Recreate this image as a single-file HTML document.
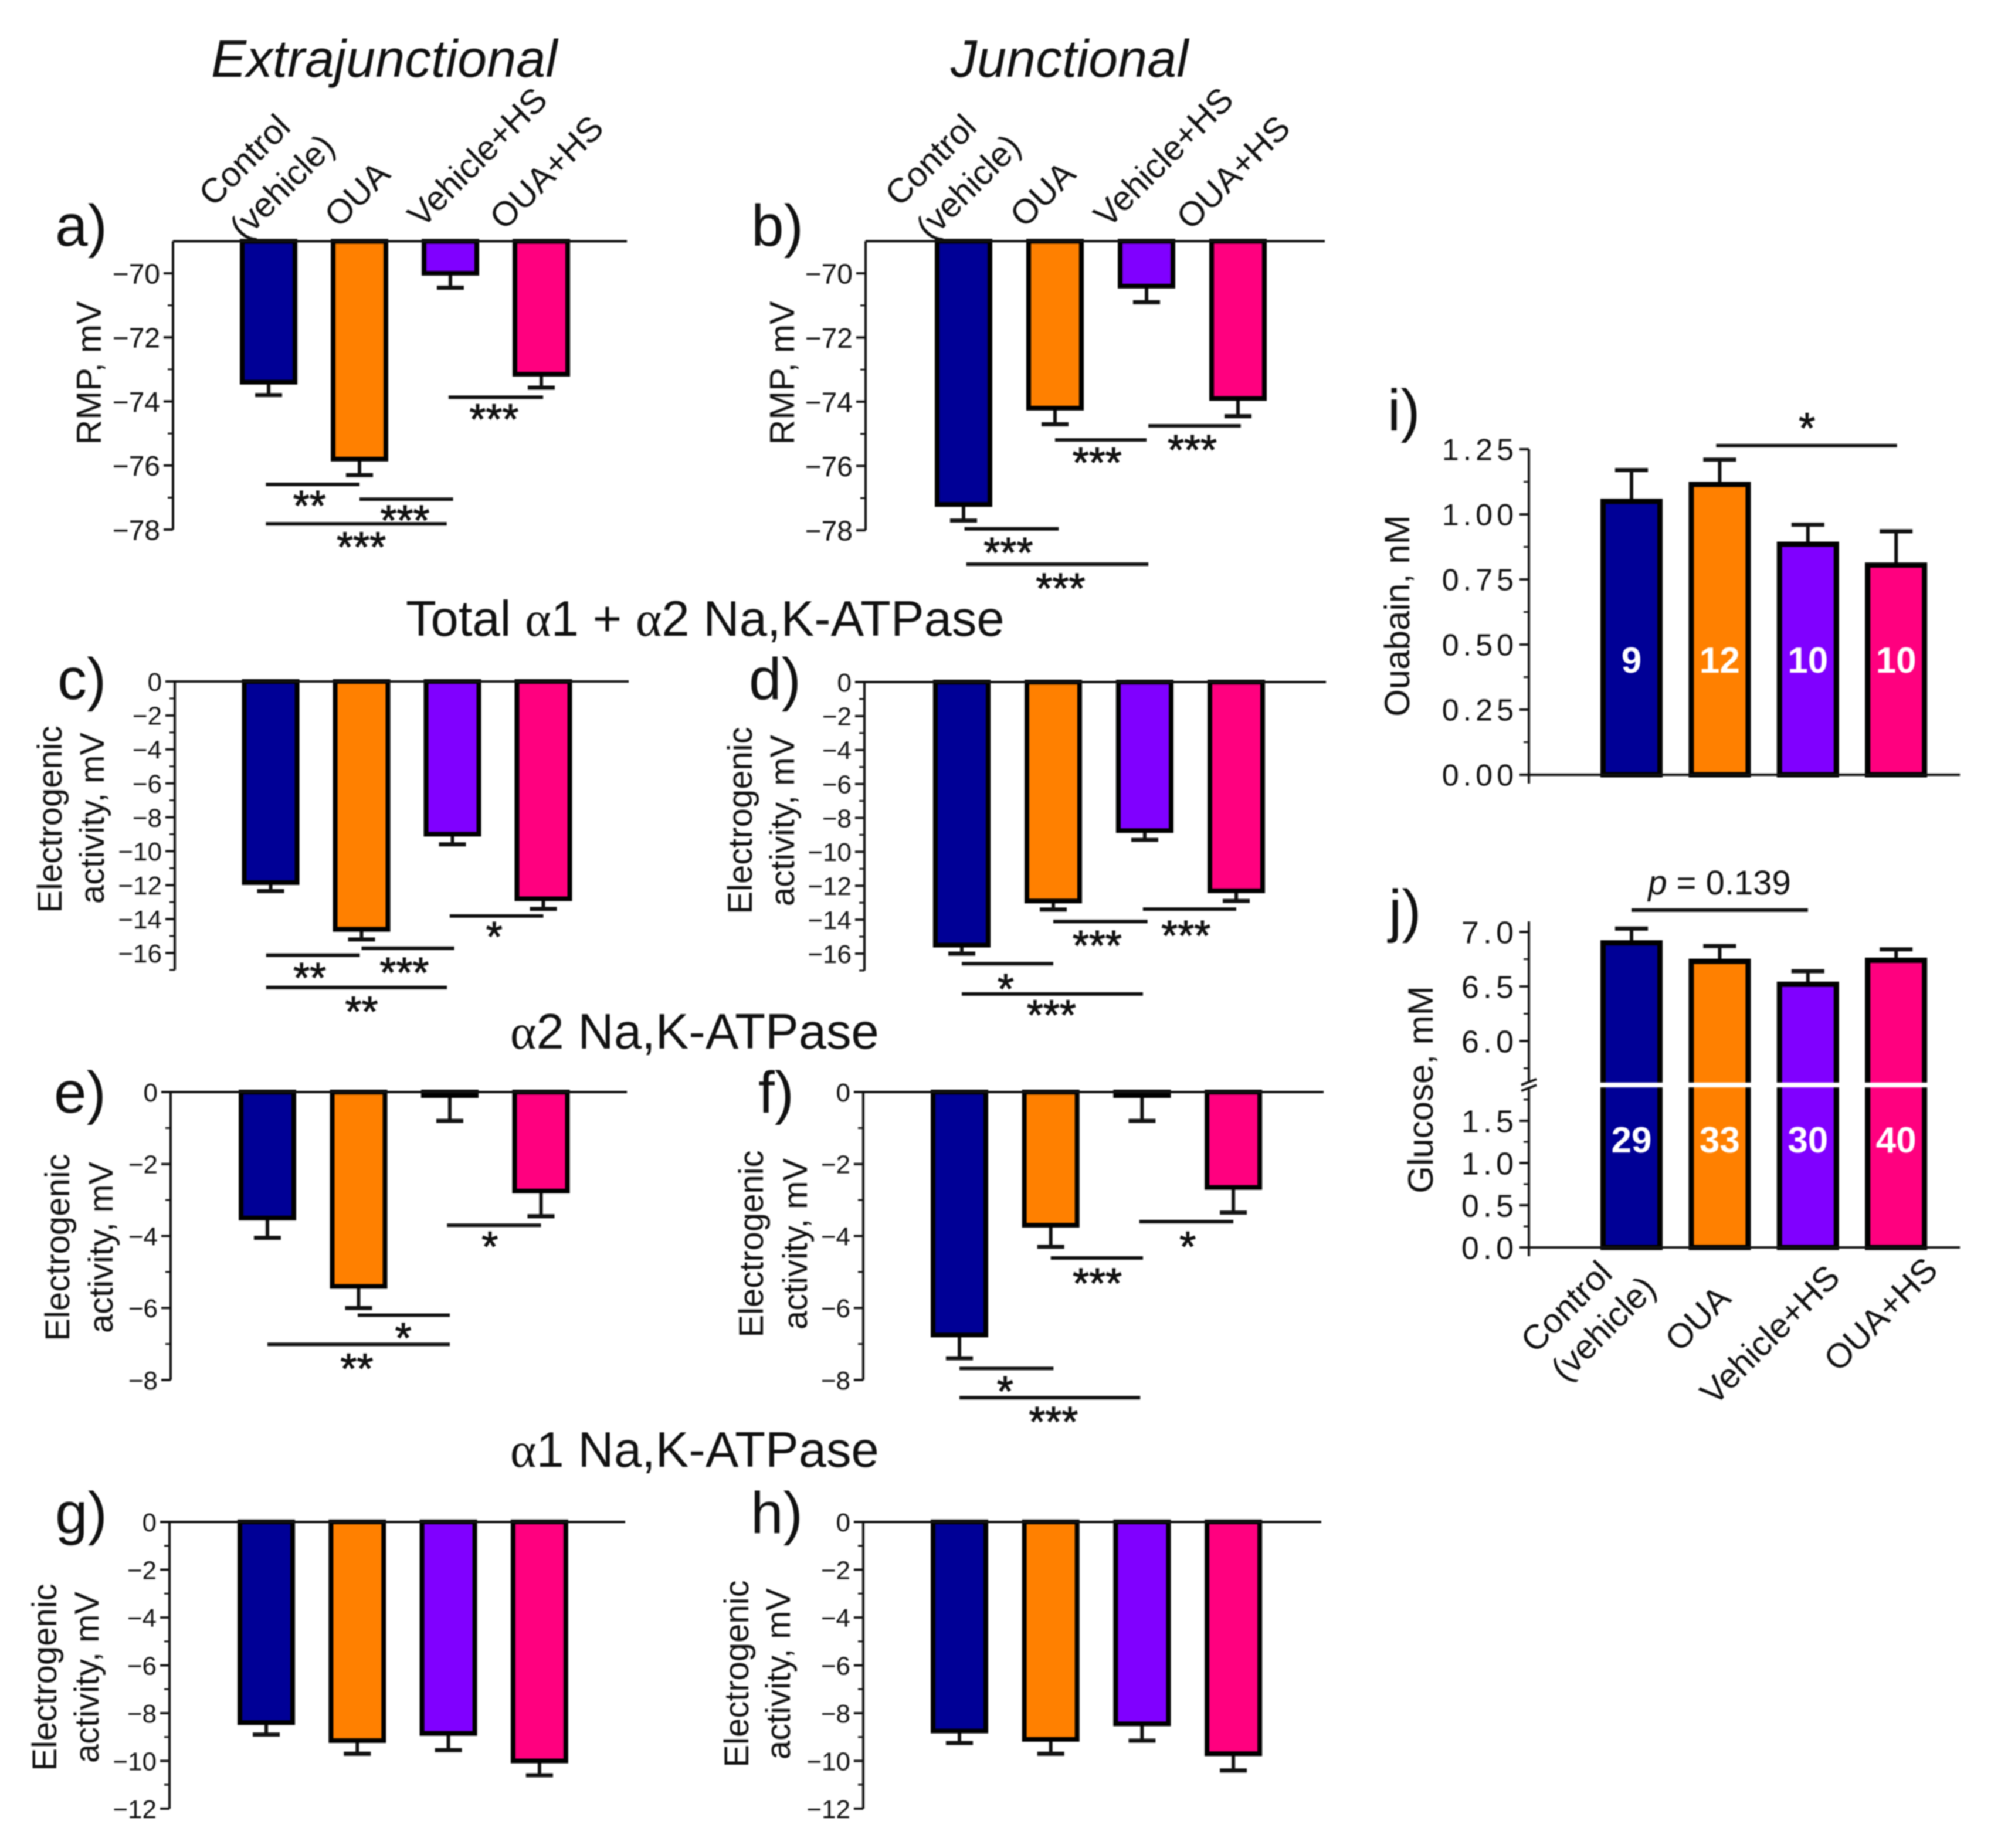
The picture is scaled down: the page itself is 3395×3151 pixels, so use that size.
<!DOCTYPE html>
<html lang="en">
<head>
<meta charset="utf-8">
<title>Na,K-ATPase electrogenic activity panels</title>
<style>
html,body{margin:0;padding:0;background:#fff;}
svg{display:block;filter:blur(1px);}
text{font-family:"Liberation Sans",Arial,sans-serif;fill:#111;}
</style>
</head>
<body>
<svg id="figure" xmlns="http://www.w3.org/2000/svg" width="3395" height="3151" viewBox="0 0 3395 3151">
<rect width="3395" height="3151" fill="#fff"/>
<text x="360" y="131" font-size="90" font-style="italic">Extrajunctional</text>
<text x="1621" y="131" font-size="90" font-style="italic">Junctional</text>
<text x="692" y="1084" font-size="85">Total <tspan font-family="Liberation Serif">α</tspan>1 + <tspan font-family="Liberation Serif">α</tspan>2 Na,K-ATPase</text>
<text x="870" y="1788" font-size="85"><tspan font-family="Liberation Serif">α</tspan>2 Na,K-ATPase</text>
<text x="870" y="2501" font-size="85"><tspan font-family="Liberation Serif">α</tspan>1 Na,K-ATPase</text>
<text x="94" y="419" font-size="100">a)</text>
<text x="1281" y="419" font-size="100">b)</text>
<text x="98" y="1192" font-size="100">c)</text>
<text x="1277" y="1192" font-size="100">d)</text>
<text x="92" y="1897" font-size="100">e)</text>
<text x="1293" y="1897" font-size="100">f)</text>
<text x="94" y="2614" font-size="100">g)</text>
<text x="1280" y="2614" font-size="100">h)</text>
<text x="2366" y="734" font-size="100">i)</text>
<text x="2368" y="1587" font-size="100">j)</text>
<text x="2932" y="1525" font-size="58" text-anchor="middle"><tspan font-style="italic">p</tspan> = 0.139</text>
</svg>
<script>
const categories = ['Control (vehicle)', 'OUA', 'Vehicle+HS', 'OUA+HS'];
const barColors = ['#000096', '#FF8000', '#8000FF', '#FF007F'];

const valuesA = [-73.4, -75.8, -70.0, -73.15];
const errorsA = [0.4, 0.5, 0.45, 0.42];
const valuesB = [-77.2, -74.2, -70.4, -73.9];
const errorsB = [0.5, 0.5, 0.5, 0.55];
const valuesC = [-11.85, -14.6, -9.0, -12.8];
const errorsC = [0.5, 0.6, 0.6, 0.6];
const valuesD = [-15.5, -12.9, -8.75, -12.3];
const errorsD = [0.5, 0.5, 0.55, 0.6];
const valuesE = [-3.5, -5.4, -0.1, -2.75];
const errorsE = [0.55, 0.6, 0.7, 0.7];
const valuesF = [-6.75, -3.7, -0.1, -2.65];
const errorsF = [0.65, 0.6, 0.7, 0.7];
const valuesG = [-8.4, -9.15, -8.85, -10.0];
const errorsG = [0.5, 0.55, 0.7, 0.6];
const valuesH = [-8.75, -9.1, -8.45, -9.7];
const errorsH = [0.5, 0.6, 0.7, 0.7];
const valuesI = [1.05, 1.115, 0.885, 0.805];
const errorsI = [0.12, 0.095, 0.075, 0.13];
const countsI = ['9', '12', '10', '10'];
const valuesJ = [6.9, 6.73, 6.52, 6.74];
const errorsJ = [0.13, 0.14, 0.12, 0.1];
const countsJ = ['29', '33', '30', '40'];

const ticksA = [-70, -72, -74, -76, -78];
const minorA = [-71, -73, -75, -77];
const ticksCD = [0, -2, -4, -6, -8, -10, -12, -14, -16];
const minorCD = [-1, -3, -5, -7, -9, -11, -13, -15, -17];
const ticksEF = [0, -2, -4, -6, -8];
const minorEF = [-1, -3, -5, -7];
const ticksGH = [0, -2, -4, -6, -8, -10, -12];
const minorGH = [-1, -3, -5, -7, -9, -11];
const ticksI = [0, 0.25, 0.5, 0.75, 1, 1.25];
const minorI = [0.125, 0.375, 0.625, 0.875, 1.125];
const ticksJ = [0, 0.5, 1, 1.5, 6, 6.5, 7];
const minorJ = [0.25, 0.75, 1.25, 1.75, 5.75, 6.25, 6.75];

const bracketsA = [[-0.03, 1, -76.59], [1, 2.03, -77.05], [-0.03, 1.96, -77.82], [1.98, 3.02, -73.87]];
const starsA = [[0.45, -77.1, '**'], [1.5, -77.56, '***'], [1.02, -78.39, '***'], [2.48, -74.4, '***']];
const bracketsB = [[0.01, 1.04, -77.96], [0.03, 2.02, -79.06], [1, 2, -75.19], [2.02, 3.03, -74.75]];
const starsB = [[0.49, -78.55, '***'], [1.06, -79.66, '***'], [1.46, -75.74, '***'], [2.5, -75.35, '***']];
const bracketsC = [[-0.05, 0.98, -16.13], [1, 2.02, -15.72], [-0.05, 1.94, -18.03], [1.97, 3, -13.82]];
const starsC = [[0.43, -17.17, '**'], [1.47, -16.86, '***'], [1.0, -19.17, '**'], [2.46, -14.75, '*']];
const bracketsD = [[0, 1, -16.59], [0, 1.98, -18.38], [1, 2.03, -14.11], [1.98, 3, -13.38]];
const starsD = [[0.48, -17.8, '*'], [0.98, -19.34, '***'], [1.48, -15.24, '***'], [2.45, -14.66, '***']];
const bracketsE = [[0.99, 2, -6.2], [0, 2, -7.01], [1.97, 3, -3.7]];
const starsE = [[1.49, -6.7, '*'], [0.98, -7.55, '**'], [2.44, -4.16, '*']];
const bracketsF = [[0, 1.03, -7.68], [0, 1.98, -8.49], [1, 2.01, -4.61], [1.97, 3, -3.6]];
const starsF = [[0.5, -8.18, '*'], [1.03, -9.03, '***'], [1.51, -5.18, '***'], [2.5, -4.16, '*']];
const bracketsI = [[0.96, 3.01, 1.264]];
const starsI = [[1.99, 1.35, '*']];
const bracketsJ = [[0, 2, 7.2]];

const svg = document.getElementById('figure');
const NS = 'http://www.w3.org/2000/svg';

function make(tag, attrs, parent) {
  const node = document.createElementNS(NS, tag);
  for (const key in attrs) node.setAttribute(key, attrs[key]);
  parent.appendChild(node);
  return node;
}

function drawLine(parent, name, x1, y1, x2, y2, width, color) {
  const line = make('line', { x1: x1, y1: y1, x2: x2, y2: y2, stroke: color || '#111', 'stroke-width': width }, parent);
  
  
  return line;
}

function drawText(parent, name, content, x, y, size, extra) {
  const label = make('text', Object.assign({ x: x, y: y, 'font-size': size }, extra || {}), parent);
  label.textContent = content;
  
  
  return label;
}

function linearScale(d0, d1, r0, r1) {
  return function (v) { return r0 + (v - d0) * (r1 - r0) / (d1 - d0); };
}

function drawPanel(p) {
  const g = make('g', {}, svg);
  
  
  const y = p.yScale;
  const x = function (i) { return p.x0 + i * p.step; };
  const sw = p.stroke || 8;
  const half = p.barWidth / 2;
  const base = y(p.baseValue);

  p.values.forEach(function (value, i) {
    const end = y(value);
    const errEnd = y(value + (value < p.baseValue ? -p.errors[i] : p.errors[i]));
    drawLine(g, 'error-stem-' + p.id + '-' + i, x(i), end, x(i), errEnd, 6);
    drawLine(g, 'error-cap-' + p.id + '-' + i, x(i) - p.cap, errEnd, x(i) + p.cap, errEnd, 7);
    const bar = make('rect', {
      x: x(i) - half,
      y: Math.min(base, end),
      width: p.barWidth,
      height: Math.abs(end - base),
      fill: barColors[i],
      stroke: '#000',
      'stroke-width': sw
    }, g);
    
    
    if (p.counts) {
      drawText(g, 'bar-count-' + p.id + '-' + i, p.counts[i], x(i), p.countY, 62, {
        'text-anchor': 'middle', 'font-weight': 'bold', style: 'fill:#fff'
      });
    }
  });

  if (p.axisSegments) {
    p.axisSegments.forEach(function (seg, i) {
      drawLine(g, 'y-axis-' + p.id + '-' + i, p.axisX, seg[0], p.axisX, seg[1], 4);
    });
  } else {
    drawLine(g, 'y-axis-' + p.id, p.axisX, base, p.axisX, y(p.axisEnd), 4);
  }
  drawLine(g, 'baseline-' + p.id, p.axisX, base, p.axisRight, base, 4);

  p.ticks.forEach(function (t) {
    drawLine(g, 'y-tick-' + p.id, p.axisX - 16, y(t), p.axisX, y(t), 4);
    const txt = p.format(t);
    drawText(g, 'y-tick-label-' + p.id, txt, p.axisX - 22 + (p.tickSpacing ? 3 : 0), y(t) + p.tickSize * 0.36, p.tickSize, {
      'text-anchor': 'end', 'letter-spacing': p.tickSpacing || 0
    });
  });
  p.minor.forEach(function (t) {
    drawLine(g, 'y-minor-tick-' + p.id, p.axisX - 9, y(t), p.axisX, y(t), 3);
  });

  (p.brackets || []).forEach(function (b) {
    drawLine(g, 'significance-bar-' + p.id, x(b[0]), y(b[2]), x(b[1]), y(b[2]), 6);
  });
  (p.stars || []).forEach(function (s) {
    drawText(g, 'significance-stars-' + p.id, s[2], x(s[0]), y(s[1]) + 33, 72, {
      'text-anchor': 'middle', stroke: '#111', 'stroke-width': 1.2
    });
  });

  p.titles.forEach(function (t, i) {
    drawText(g, 'y-axis-title-' + p.id + '-' + i, t[0], 0, 0, p.titleSize || 58, {
      'text-anchor': 'middle',
      transform: 'translate(' + t[1] + ',' + t[2] + ') rotate(-90)'
    });
  });
}

function drawCategoryLabels(id, positions) {
  const g = make('g', {}, svg);
  
  
  const words = ['Control', '(vehicle)', categories[1], categories[2], categories[3]];
  words.forEach(function (word, i) {
    drawText(g, 'category-label-' + id + '-' + i, word, 0, 0, 59, {
      'text-anchor': 'middle',
      'dominant-baseline': 'central',
      transform: 'translate(' + positions[i][0] + ',' + positions[i][1] + ') rotate(-45)'
    });
  });
}

const negFormat = function (t) { return t === 0 ? '0' : '\u2212' + Math.abs(t); };

drawPanel({ id: 'a', values: valuesA, errors: errorsA, ticks: ticksA, minor: minorA, brackets: bracketsA, stars: starsA,
  yScale: linearScale(-70, -78, 466, 903), baseValue: -69, axisEnd: -78, axisX: 295, axisRight: 1069,
  x0: 458, step: 155, barWidth: 90, cap: 23, tickSize: 48, format: negFormat, titleSize: 59, titles: [['RMP, mV', 172, 636]] });
drawPanel({ id: 'b', values: valuesB, errors: errorsB, ticks: ticksA, minor: minorA, brackets: bracketsB, stars: starsB,
  yScale: linearScale(-70, -78, 466, 904), baseValue: -69, axisEnd: -78, axisX: 1476, axisRight: 2259,
  x0: 1643, step: 156, barWidth: 90, cap: 23, tickSize: 48, format: negFormat, titleSize: 59, titles: [['RMP, mV', 1354, 636]] });
drawPanel({ id: 'c', values: valuesC, errors: errorsC, ticks: ticksCD, minor: minorCD, brackets: bracketsC, stars: starsC,
  yScale: linearScale(0, -16, 1162, 1625), baseValue: 0, axisEnd: -17, axisX: 298, axisRight: 1072,
  x0: 461.5, step: 155, barWidth: 90, cap: 23, tickSize: 44, format: negFormat, titles: [['Electrogenic', 105, 1397], ['activity, mV', 177, 1395]] });
drawPanel({ id: 'd', values: valuesD, errors: errorsD, ticks: ticksCD, minor: minorCD, brackets: bracketsD, stars: starsD,
  yScale: linearScale(0, -16, 1163, 1626), baseValue: 0, axisEnd: -17, axisX: 1474, axisRight: 2261,
  x0: 1640, step: 156, barWidth: 90, cap: 23, tickSize: 44, format: negFormat, titles: [['Electrogenic', 1282, 1399], ['activity, mV', 1354, 1399]] });
drawPanel({ id: 'e', values: valuesE, errors: errorsE, ticks: ticksEF, minor: minorEF, brackets: bracketsE, stars: starsE,
  yScale: linearScale(0, -8, 1862, 2353), baseValue: 0, axisEnd: -8, axisX: 291, axisRight: 1069,
  x0: 456, step: 155.5, barWidth: 90, cap: 23, tickSize: 44, format: negFormat, titles: [['Electrogenic', 118, 2127], ['activity, mV', 192, 2127]] });
drawPanel({ id: 'f', values: valuesF, errors: errorsF, ticks: ticksEF, minor: minorEF, brackets: bracketsF, stars: starsF,
  yScale: linearScale(0, -8, 1862, 2353), baseValue: 0, axisEnd: -8, axisX: 1472, axisRight: 2257,
  x0: 1636, step: 155.7, barWidth: 90, cap: 23, tickSize: 44, format: negFormat, titles: [['Electrogenic', 1301, 2121], ['activity, mV', 1376, 2121]] });
drawPanel({ id: 'g', values: valuesG, errors: errorsG, ticks: ticksGH, minor: minorGH,
  yScale: linearScale(0, -12, 2595, 3084), baseValue: 0, axisEnd: -12, axisX: 289, axisRight: 1066,
  x0: 454, step: 155.3, barWidth: 90, cap: 23, tickSize: 44, format: negFormat, titles: [['Electrogenic', 96, 2860], ['activity, mV', 168, 2860]] });
drawPanel({ id: 'h', values: valuesH, errors: errorsH, ticks: ticksGH, minor: minorGH,
  yScale: linearScale(0, -12, 2595, 3084), baseValue: 0, axisEnd: -12, axisX: 1472, axisRight: 2253,
  x0: 1636, step: 155.7, barWidth: 90, cap: 23, tickSize: 44, format: negFormat, titles: [['Electrogenic', 1276, 2854], ['activity, mV', 1347, 2854]] });

drawPanel({ id: 'i', values: valuesI, errors: errorsI, counts: countsI, countY: 1147, ticks: ticksI, minor: minorI, brackets: bracketsI, stars: starsI,
  yScale: linearScale(0, 1.25, 1321, 766), baseValue: 0, axisEnd: 1.25, axisSegments: [[766, 1336]], axisX: 2607, axisRight: 3342,
  x0: 2782, step: 150.4, barWidth: 97, cap: 28, stroke: 9, tickSize: 52, tickSpacing: 7, format: function (t) { return t.toFixed(2); },
  titleSize: 60, titles: [['Ouabain, nM', 2403, 1050]] });

const glucoseScale = function (v) {
  return v > 3 ? linearScale(7, 6, 1589, 1775)(v) : linearScale(0, 1.5, 2127, 1911)(v);
};
drawPanel({ id: 'j', values: valuesJ, errors: errorsJ, counts: countsJ, countY: 1965, ticks: ticksJ, minor: minorJ, brackets: bracketsJ,
  yScale: glucoseScale, baseValue: 0, axisEnd: 7, axisSegments: [[1571, 1843], [1857, 2142]], axisX: 2607, axisRight: 3342,
  x0: 2782, step: 150.4, barWidth: 97, cap: 28, stroke: 9, tickSize: 54, tickSpacing: 7, format: function (t) { return t.toFixed(1); },
  titleSize: 60, titles: [['Glucose, mM', 2443, 1858]] });

const breakBand = make('rect', { x: 2720, y: 1846, width: 575, height: 8, fill: '#fff' }, svg);


drawLine(svg, 'axis-break-mark-upper', 2594, 1850, 2620, 1840, 4);
drawLine(svg, 'axis-break-mark-lower', 2594, 1860, 2620, 1850, 4);

drawCategoryLabels('top-left', [[417, 273], [481, 318], [609, 331], [814, 268], [932, 294]]);
drawCategoryLabels('top-right', [[1587, 273], [1651, 318], [1778, 331], [1984, 268], [2103, 294]]);
drawCategoryLabels('bottom-right', [[2671, 2228], [2734, 2265], [2895, 2248], [3018, 2276], [3207, 2241]]);
</script>
</body>
</html>
